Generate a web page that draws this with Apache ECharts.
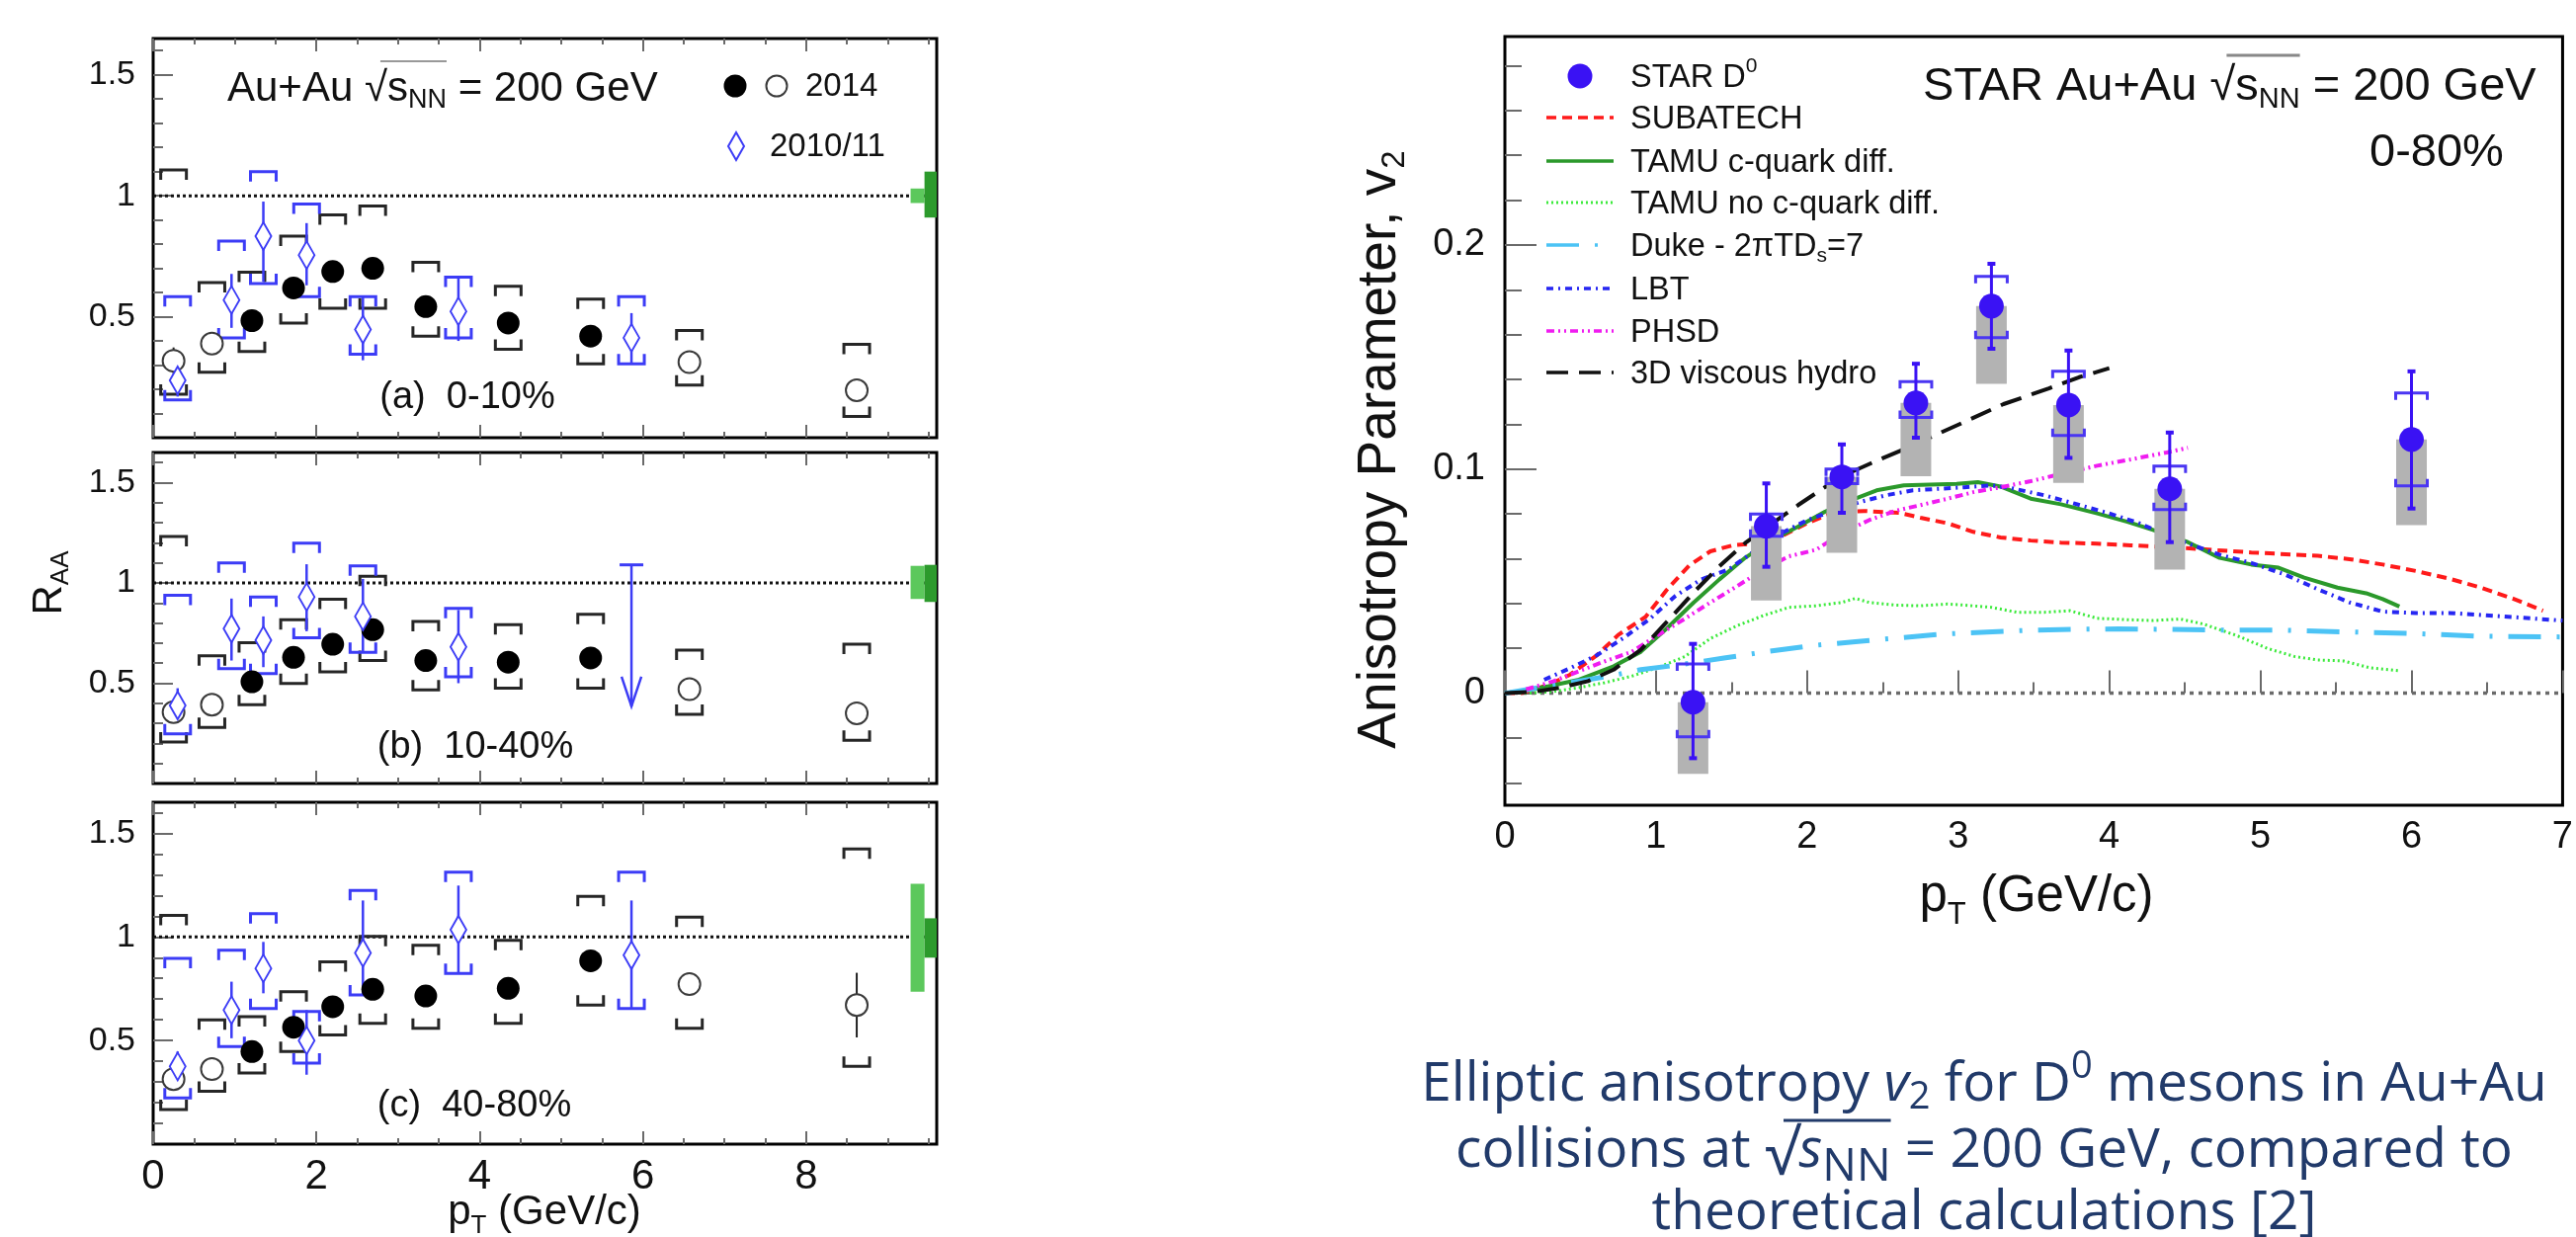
<!DOCTYPE html>
<html><head><meta charset="utf-8">
<script src="https://cdn.jsdelivr.net/npm/echarts@6/dist/echarts.min.js"></script>
<style>html,body{margin:0;padding:0;background:#fff;overflow:hidden}#c{width:2607px;height:1252px}</style>
</head><body><div id="c"></div>
<script>
// ---------------- Left: R_AA (STAR D0, Au+Au 200 GeV) ----------------
const ptRun14 = [0.25, 0.72, 1.21, 1.72, 2.20, 2.69, 3.34, 4.35, 5.36, 6.57, 8.62];
const openRun14 = [1, 1, 0, 0, 0, 0, 0, 0, 0, 1, 1];

const raa14_0_10   = [0.318, 0.389, 0.484, 0.619, 0.687, 0.700, 0.542, 0.474, 0.420, 0.312, 0.196];
const sysHi14_0_10 = [1.107, 0.641, 0.684, 0.833, 0.921, 0.958, 0.725, 0.626, 0.573, 0.443, 0.386];
const sysLo14_0_10 = [0.180, 0.271, 0.356, 0.474, 0.535, 0.535, 0.420, 0.366, 0.305, 0.217, 0.088];
const stat14_0_10  = [0.055, 0.030, 0.020, 0.020, 0.020, 0.020, 0.020, 0.025, 0.030, 0.040, 0.045];

const raa14_10_40   = [0.356, 0.393, 0.507, 0.629, 0.694, 0.767, 0.613, 0.605, 0.626, 0.470, 0.350];
const sysHi14_10_40 = [1.231, 0.637, 0.702, 0.816, 0.919, 1.033, 0.808, 0.792, 0.844, 0.665, 0.694];
const sysLo14_10_40 = [0.207, 0.280, 0.393, 0.499, 0.556, 0.613, 0.467, 0.475, 0.475, 0.345, 0.215];
const stat14_10_40  = [0.040, 0.030, 0.020, 0.020, 0.020, 0.020, 0.020, 0.025, 0.030, 0.040, 0.045];

const raa14_40_80   = [0.314, 0.362, 0.447, 0.564, 0.663, 0.747, 0.715, 0.752, 0.885, 0.772, 0.671];
const sysHi14_40_80 = [1.104, 0.600, 0.615, 0.736, 0.880, 1.003, 0.960, 0.984, 1.196, 1.096, 1.425];
const sysLo14_40_80 = [0.167, 0.255, 0.343, 0.447, 0.527, 0.583, 0.559, 0.583, 0.671, 0.559, 0.375];
const stat14_40_80  = [0.050, 0.030, 0.020, 0.020, 0.020, 0.030, 0.030, 0.040, 0.040, 0.050, 0.156];

const ptRun11 = [0.30, 0.96, 1.35, 1.88, 2.57, 3.74, 5.86];
const raa11_0_10    = [0.237, 0.569, 0.833, 0.755, 0.447, 0.522, 0.413];
const statHi11_0_10 = [0.310, 0.677, 0.976, 0.887, 0.583, 0.664, 0.515];
const statLo11_0_10 = [0.170, 0.454, 0.644, 0.630, 0.320, 0.400, 0.305];
const sysHi11_0_10  = [0.583, 0.813, 1.100, 0.966, 0.583, 0.664, 0.583];
const sysLo11_0_10  = [0.156, 0.413, 0.637, 0.583, 0.345, 0.413, 0.305];

const raa11_10_40    = [0.389, 0.772, 0.714, 0.930, 0.833, 0.681, null];
const statHi11_10_40 = [0.475, 0.922, 0.833, 1.093, 1.020, 0.865, null];
const statLo11_10_40 = [0.304, 0.613, 0.580, 0.759, 0.654, 0.500, null];
const sysHi11_10_40  = [0.938, 1.100, 0.930, 1.198, 1.085, 0.873, null];
const sysLo11_10_40  = [0.247, 0.572, 0.548, 0.727, 0.654, 0.532, null];
const ulPt11_10_40 = [5.86];
const ulHi11_10_40 = [1.09];
const ulLo11_10_40 = [0.385];

const raa11_40_80    = [0.375, 0.647, 0.848, 0.500, 0.923, 1.035, 0.912];
const statHi11_40_80 = [0.447, 0.784, 0.976, 0.647, 1.176, 1.248, 1.176];
const statLo11_40_80 = [0.279, 0.511, 0.728, 0.335, 0.720, 0.824, 0.655];
const sysHi11_40_80  = [0.896, 0.936, 1.112, 0.640, 1.224, 1.313, 1.313];
const sysLo11_40_80  = [0.223, 0.471, 0.655, 0.391, 0.720, 0.824, 0.655];

const normEdges   = [9.28, 9.45, 9.6];
const normLightLo = [0.97, 0.92, 0.735];
const normLightHi = [1.03, 1.085, 1.256];
const normDarkLo  = [0.91, 0.905, 0.90];
const normDarkHi  = [1.10, 1.09, 1.09];

const raaMajorTicks = [0.5, 1, 1.5];
const raaMinorTicks = [0.1, 0.2, 0.3, 0.4, 0.6, 0.7, 0.8, 0.9, 1.1, 1.2, 1.3, 1.4, 1.6];
const ptMajorTicksL = [0, 2, 4, 6, 8];
const ptMinorTicksL = [0.5, 1, 1.5, 2.5, 3, 3.5, 4.5, 5, 5.5, 6.5, 7, 7.5, 8.5, 9, 9.5];

// ---------------- Right: D0 v2 ----------------
const v2Pt       = [1.245, 1.73, 2.23, 2.72, 3.22, 3.73, 4.40, 6.00];
const v2Val      = [-0.004, 0.0745, 0.0965, 0.1295, 0.1727, 0.1286, 0.0912, 0.1132];
const v2StatHi   = [0.022, 0.0936, 0.111, 0.147, 0.1916, 0.1529, 0.1163, 0.1436];
const v2StatLo   = [-0.029, 0.0564, 0.0805, 0.114, 0.1537, 0.105, 0.0674, 0.0824];
const v2SysHi    = [0.013, 0.080, 0.100, 0.139, 0.186, 0.1436, 0.1013, 0.134];
const v2SysLo    = [-0.0195, 0.0700, 0.0935, 0.123, 0.1586, 0.115, 0.0819, 0.0925];
const v2NonFlowLo = [-0.036, 0.0414, 0.0626, 0.0968, 0.138, 0.0938, 0.0551, 0.075];

const subatech = [[0,0],[0.11,0],[0.29,0.0038],[0.43,0.0082],[0.61,0.017],[0.75,0.026],[0.93,0.034],[1.07,0.046],[1.22,0.057],[1.36,0.0633],[1.51,0.066],[1.64,0.0667],[1.83,0.070],[2.0,0.0758],[2.17,0.0805],[2.38,0.0813],[2.61,0.0805],[2.75,0.0783],[2.93,0.0758],[3.1,0.072],[3.28,0.0695],[3.48,0.0681],[3.68,0.0672],[3.92,0.0667],[4.14,0.066],[4.51,0.0647],[4.94,0.0628],[5.38,0.0613],[5.59,0.0598],[5.81,0.0574],[6.03,0.0545],[6.25,0.0511],[6.46,0.0471],[6.68,0.042],[6.87,0.0368]];
const tamuDiff = [[0,0],[0.11,0.0009],[0.29,0.0031],[0.49,0.006],[0.72,0.012],[0.9,0.0185],[1.07,0.0288],[1.25,0.0405],[1.42,0.0508],[1.59,0.0604],[1.77,0.0684],[1.94,0.0743],[2.12,0.081],[2.29,0.0861],[2.46,0.0905],[2.64,0.0927],[2.81,0.0931],[2.99,0.0934],[3.13,0.0942],[3.28,0.0922],[3.48,0.0868],[3.68,0.0843],[3.92,0.0802],[4.12,0.0765],[4.29,0.0728],[4.51,0.0677],[4.73,0.0604],[4.94,0.0574],[5.12,0.056],[5.29,0.0516],[5.51,0.0471],[5.7,0.0446],[5.81,0.042],[5.92,0.0387]];
const tamuNoDiff = [[0,0],[0.14,0],[0.32,0.0007],[0.49,0.0025],[0.66,0.0047],[0.84,0.0076],[1.01,0.0114],[1.19,0.0163],[1.36,0.0244],[1.54,0.0302],[1.71,0.0346],[1.88,0.0383],[2.06,0.039],[2.23,0.0405],[2.32,0.0423],[2.41,0.0405],[2.58,0.0393],[2.75,0.039],[2.93,0.0398],[3.04,0.0393],[3.22,0.0383],[3.39,0.0361],[3.57,0.0361],[3.74,0.0368],[3.92,0.0334],[4.12,0.0328],[4.29,0.0324],[4.47,0.0331],[4.62,0.0309],[4.84,0.0258],[5.05,0.0199],[5.23,0.0163],[5.38,0.0148],[5.55,0.0144],[5.72,0.0114],[5.92,0.0100]];
const duke = [[0,0],[0.03,0.0003],[0.23,0.0025],[0.43,0.0047],[0.69,0.0076],[0.9,0.0105],[1.16,0.0127],[1.45,0.0157],[1.74,0.0186],[2.03,0.0212],[2.32,0.023],[2.61,0.0247],[2.9,0.0264],[3.19,0.0273],[3.48,0.0281],[3.77,0.0285],[4.06,0.0287],[4.35,0.0285],[4.73,0.0281],[5.16,0.0281],[5.59,0.0273],[6.03,0.0266],[6.46,0.0254],[7.0,0.0251]];
const lbt = [[0.26,0.006],[0.43,0.0111],[0.61,0.017],[0.78,0.0244],[0.96,0.0332],[1.13,0.0435],[1.3,0.0508],[1.48,0.0552],[1.65,0.0633],[1.83,0.0714],[2.0,0.0772],[2.17,0.0813],[2.35,0.0853],[2.52,0.0883],[2.7,0.0905],[2.87,0.0912],[3.04,0.0919],[3.22,0.0927],[3.34,0.0917],[3.57,0.0883],[3.77,0.0846],[4.0,0.0802],[4.2,0.0758],[4.35,0.0714],[4.51,0.067],[4.73,0.0618],[4.94,0.0581],[5.16,0.053],[5.38,0.0464],[5.59,0.0405],[5.81,0.0364],[6.03,0.0358],[6.25,0.0358],[6.46,0.0349],[6.68,0.0339],[7.0,0.0324]];
const phsd = [[0.14,0.0017],[0.32,0.0053],[0.49,0.0098],[0.66,0.0142],[0.84,0.0185],[1.01,0.0258],[1.19,0.0332],[1.36,0.0405],[1.54,0.0479],[1.71,0.0552],[1.88,0.0611],[2.06,0.064],[2.23,0.0714],[2.41,0.0772],[2.58,0.0813],[2.75,0.0839],[2.93,0.0868],[3.1,0.0897],[3.28,0.0919],[3.48,0.0946],[3.68,0.0978],[3.92,0.1015],[4.15,0.1044],[4.38,0.1074],[4.52,0.1095]];
const hydro3d = [[0,0],[0.2,0.0007],[0.37,0.0025],[0.55,0.0054],[0.72,0.0105],[0.9,0.0194],[1.07,0.0317],[1.25,0.045],[1.42,0.0567],[1.59,0.067],[1.77,0.0758],[1.94,0.0839],[2.12,0.092],[2.29,0.0986],[2.46,0.1037],[2.64,0.1088],[2.81,0.114],[3.04,0.121],[3.3,0.129],[3.6,0.136],[3.8,0.141],[4.0,0.145]];

const v2MajorTicks = [0, 0.1, 0.2];
const v2MinorTicks = [-0.04, -0.02, 0.02, 0.04, 0.06, 0.08, 0.12, 0.14, 0.16, 0.18, 0.22, 0.24, 0.26, 0.28];
const ptMajorTicksR = [0, 1, 2, 3, 4, 5, 6, 7];
const ptMinorTicksR = [0.5, 1.5, 2.5, 3.5, 4.5, 5.5, 6.5];

// ---------------- styling ----------------
const F = "'Liberation Sans', Arial, Helvetica, sans-serif";
const CF = "'Open Sans', 'Noto Sans', sans-serif";
const BLUE_L = '#3c3cf6', BLUE_R = '#3a12f4', BLUE_RB = '#4a36f2';
const TICK = '#6a6a6a';

const measureCtx = document.createElement('canvas').getContext('2d');
function tw(t, size, fam, it) { measureCtx.font = (it ? 'italic ' : '') + size + 'px ' + fam; return measureCtx.measureText(t).width; }
function runs(x, y, segs, o) {
  const fam = o.fam || F, color = o.color || '#111', base = o.size;
  const ws = segs.map(g => tw(g.t, g.s || base, fam, g.it));
  const total = ws.reduce((a, b) => a + b, 0);
  let cx = o.align === 'center' ? x - total / 2 : o.align === 'right' ? x - total : x;
  const els = [], xs = [];
  segs.forEach((g, i) => {
    xs.push(cx);
    els.push({ type: 'text', x: cx, y: y + (g.dy || 0), silent: true, z: 100,
      style: { text: g.t, font: (g.it ? 'italic ' : '') + (g.s || base) + 'px ' + fam, fill: g.c || color,
        textAlign: 'left', textVerticalAlign: 'middle', align: 'left', verticalAlign: 'middle' } });
    cx += ws[i];
  });
  xs.push(cx);
  return { els, xs, total };
}

// ---------------- layout ----------------
const leftGrids = [
  { left: 155, top: 39, width: 793, height: 404 },
  { left: 155, top: 458, width: 793, height: 335 },
  { left: 155, top: 812, width: 793, height: 346 }
];
const rightGrid = { left: 1523, top: 37, width: 1078, height: 778 };

const grids = leftGrids.concat([rightGrid]).map(g => Object.assign({ show: true, borderColor: '#000', borderWidth: 3, backgroundColor: 'transparent', containLabel: false }, g));

function axis(o) {
  return Object.assign({ type: 'value', axisLine: { show: false }, splitLine: { show: false },
    axisTick: { show: false }, axisLabel: { show: false }, minorTick: { show: false } }, o);
}
function ticks(vals, len) { return { show: true, inside: true, length: len, customValues: vals, lineStyle: { color: TICK, width: 2 } }; }

const xAxes = [], yAxes = [];
leftGrids.forEach((g, p) => {
  const last = p === 2;
  xAxes.push(axis({ gridIndex: p, min: 0, max: 9.6, position: 'bottom', axisTick: ticks(ptMajorTicksL, 13),
    axisLabel: { show: last, customValues: ptMajorTicksL, fontSize: 42, fontFamily: F, color: '#111', margin: 12 } }));
  xAxes.push(axis({ gridIndex: p, min: 0, max: 9.6, position: 'bottom', axisTick: ticks(ptMinorTicksL, 6) }));
  xAxes.push(axis({ gridIndex: p, min: 0, max: 9.6, position: 'top', axisTick: ticks(ptMajorTicksL, 13) }));
  xAxes.push(axis({ gridIndex: p, min: 0, max: 9.6, position: 'top', axisTick: ticks(ptMinorTicksL, 6) }));
  yAxes.push(axis({ gridIndex: p, min: 0, max: 1.65, position: 'left', axisTick: ticks(raaMajorTicks, 20),
    axisLabel: { show: true, customValues: raaMajorTicks, fontSize: 34, fontFamily: F, color: '#111', margin: 18 } }));
  yAxes.push(axis({ gridIndex: p, min: 0, max: 1.65, position: 'left', axisTick: ticks(raaMinorTicks, 10) }));
});
xAxes.push(axis({ gridIndex: 3, min: 0, max: 7, position: 'bottom', axisTick: ticks(ptMajorTicksR, 23),
  axisLabel: { show: true, customValues: ptMajorTicksR, fontSize: 38, fontFamily: F, color: '#111', margin: 14 } }));
xAxes.push(axis({ gridIndex: 3, min: 0, max: 7, position: 'bottom', axisTick: ticks(ptMinorTicksR, 11) }));
yAxes.push(axis({ gridIndex: 3, min: -0.05, max: 0.293, position: 'left', axisTick: ticks(v2MajorTicks, 32),
  axisLabel: { show: true, customValues: v2MajorTicks, fontSize: 38, fontFamily: F, color: '#111', margin: 20 } }));
yAxes.push(axis({ gridIndex: 3, min: -0.05, max: 0.293, position: 'left', axisTick: ticks(v2MinorTicks, 17) }));

// ---------------- render helpers ----------------
function refLine(xi, yi, val, color, dash, lw) {
  return { type: 'custom', xAxisIndex: xi, yAxisIndex: yi, z: 1, silent: true, data: [[0, val]],
    renderItem(params, api) {
      const cs = params.coordSys; const y = api.coord([0, api.value(1)])[1];
      return { type: 'line', shape: { x1: cs.x, y1: y, x2: cs.x + cs.width, y2: y }, style: { stroke: color, lineWidth: lw, lineDash: dash } };
    } };
}
function bracketSeries(xi, yi, pts, hi, lo, color, halfW, leg, lw, z) {
  const data = [];
  pts.forEach((p, i) => { if (hi[i] != null) data.push([p, hi[i], lo[i]]); });
  return { type: 'custom', xAxisIndex: xi, yAxisIndex: yi, z, silent: true, data,
    renderItem(params, api) {
      const x = api.value(0);
      const a = api.coord([x, api.value(1)]), b = api.coord([x, api.value(2)]);
      const st = { stroke: color, lineWidth: lw, fill: null };
      return { type: 'group', children: [
        { type: 'polyline', shape: { points: [[a[0] - halfW, a[1] + leg], [a[0] - halfW, a[1]], [a[0] + halfW, a[1]], [a[0] + halfW, a[1] + leg]] }, style: st },
        { type: 'polyline', shape: { points: [[b[0] - halfW, b[1] - leg], [b[0] - halfW, b[1]], [b[0] + halfW, b[1]], [b[0] + halfW, b[1] - leg]] }, style: st }
      ] };
    } };
}
function statSeries(xi, yi, pts, hi, lo, color, lw, cap, z) {
  const data = [];
  pts.forEach((p, i) => { if (hi[i] != null) data.push([p, hi[i], lo[i]]); });
  return { type: 'custom', xAxisIndex: xi, yAxisIndex: yi, z, silent: true, data,
    renderItem(params, api) {
      const x = api.value(0);
      const a = api.coord([x, api.value(1)]), b = api.coord([x, api.value(2)]);
      const st = { stroke: color, lineWidth: lw };
      const ch = [{ type: 'line', shape: { x1: a[0], y1: a[1], x2: b[0], y2: b[1] }, style: st }];
      if (cap) {
        ch.push({ type: 'line', shape: { x1: a[0] - cap, y1: a[1], x2: a[0] + cap, y2: a[1] }, style: { stroke: color, lineWidth: lw + 1 } });
        ch.push({ type: 'line', shape: { x1: b[0] - cap, y1: b[1], x2: b[0] + cap, y2: b[1] }, style: { stroke: color, lineWidth: lw + 1 } });
      }
      return { type: 'group', children: ch };
    } };
}
function boxSeries(xi, yi, x0, x1, lo, hi, color, z) {
  return { type: 'custom', xAxisIndex: xi, yAxisIndex: yi, z, silent: true, data: [[x0, x1, lo, hi]],
    renderItem(params, api) {
      const a = api.coord([api.value(0), api.value(3)]), b = api.coord([api.value(1), api.value(2)]);
      return { type: 'rect', shape: { x: a[0], y: a[1], width: b[0] - a[0], height: b[1] - a[1] }, style: { fill: color } };
    } };
}
function scatter(xi, yi, data, symbol, size, style, z) {
  return { type: 'scatter', xAxisIndex: xi, yAxisIndex: yi, z, silent: true, symbol, symbolSize: size, data,
    itemStyle: Object.assign({ opacity: 1 }, style), emphasis: { disabled: true } };
}

// ---------------- series ----------------
const panels = [
  { r14: raa14_0_10, sh14: sysHi14_0_10, sl14: sysLo14_0_10, st14: stat14_0_10, r11: raa11_0_10, sth: statHi11_0_10, stl: statLo11_0_10, syh: sysHi11_0_10, syl: sysLo11_0_10 },
  { r14: raa14_10_40, sh14: sysHi14_10_40, sl14: sysLo14_10_40, st14: stat14_10_40, r11: raa11_10_40, sth: statHi11_10_40, stl: statLo11_10_40, syh: sysHi11_10_40, syl: sysLo11_10_40 },
  { r14: raa14_40_80, sh14: sysHi14_40_80, sl14: sysLo14_40_80, st14: stat14_40_80, r11: raa11_40_80, sth: statHi11_40_80, stl: statLo11_40_80, syh: sysHi11_40_80, syl: sysLo11_40_80 }
];
const series = [];
panels.forEach((P, p) => {
  const xi = 4 * p, yi = 2 * p;
  series.push(refLine(xi, yi, 1, '#111', [3, 3], 3));
  series.push(boxSeries(xi, yi, normEdges[0], normEdges[1], normLightLo[p], normLightHi[p], '#5cc85c', 2));
  series.push(boxSeries(xi, yi, normEdges[1], normEdges[2], normDarkLo[p], normDarkHi[p], '#2c9a2c', 2));
  series.push(bracketSeries(xi, yi, ptRun14, P.sh14, P.sl14, '#262626', 13, 10, 3, 3));
  series.push(bracketSeries(xi, yi, ptRun11, P.syh, P.syl, BLUE_L, 13, 10, 3, 3));
  series.push(statSeries(xi, yi, ptRun14, P.r14.map((v, i) => v + P.st14[i]), P.r14.map((v, i) => v - P.st14[i]), '#222', 2, 0, 4));
  series.push(statSeries(xi, yi, ptRun11, P.sth, P.stl, BLUE_L, 2.5, 0, 4));
  const filled = [], open = [], dia = [];
  ptRun14.forEach((x, i) => (openRun14[i] ? open : filled).push([x, P.r14[i]]));
  ptRun11.forEach((x, i) => { if (P.r11[i] != null) dia.push([x, P.r11[i]]); });
  series.push(scatter(xi, yi, filled, 'circle', 23, { color: '#000' }, 5));
  series.push(scatter(xi, yi, open, 'circle', 22, { color: '#fff', borderColor: '#3a3a3a', borderWidth: 2 }, 5));
  series.push(scatter(xi, yi, dia, 'diamond', [16, 28], { color: '#fff', borderColor: BLUE_L, borderWidth: 2 }, 6));
});
// upper limit arrow (10-40%)
series.push({ type: 'custom', xAxisIndex: 4, yAxisIndex: 2, z: 6, silent: true,
  data: ulPt11_10_40.map((x, i) => [x, ulHi11_10_40[i], ulLo11_10_40[i]]),
  renderItem(params, api) {
    const a = api.coord([api.value(0), api.value(1)]), b = api.coord([api.value(0), api.value(2)]);
    const st = { stroke: BLUE_L, lineWidth: 2.5, fill: null };
    return { type: 'group', children: [
      { type: 'line', shape: { x1: a[0], y1: a[1], x2: b[0], y2: b[1] }, style: st },
      { type: 'line', shape: { x1: a[0] - 12, y1: a[1], x2: a[0] + 12, y2: a[1] }, style: { stroke: BLUE_L, lineWidth: 3 } },
      { type: 'polyline', shape: { points: [[b[0] - 10, b[1] - 30], [b[0], b[1]], [b[0] + 10, b[1] - 30]] }, style: st }
    ] };
  } });

// right chart
const RX = 12, RY = 6;
series.push(refLine(RX, RY, 0, '#6a6a6a', [4, 5], 3.5));
const curves = [
  { d: subatech, c: '#ff1a1a', w: 4, t: [10, 6] },
  { d: tamuDiff, c: '#2b992b', w: 4, t: 'solid' },
  { d: tamuNoDiff, c: '#3cea3c', w: 3, t: [2, 3] },
  { d: duke, c: '#4cc3f5', w: 5, t: [33, 16, 3, 16] },
  { d: lbt, c: '#2626f2', w: 4, t: [7, 5, 2, 5] },
  { d: phsd, c: '#f01cf0', w: 4, t: [8, 4, 2, 4, 2, 4] },
  { d: hydro3d, c: '#111', w: 4, t: [22, 11] }
];
curves.forEach(cv => series.push({ type: 'line', xAxisIndex: RX, yAxisIndex: RY, z: 2, silent: true, data: cv.d,
  symbol: 'none', showSymbol: false, smooth: false, lineStyle: { color: cv.c, width: cv.w, type: cv.t }, emphasis: { disabled: true } }));
series.push({ type: 'custom', xAxisIndex: RX, yAxisIndex: RY, z: 3, silent: true,
  data: v2Pt.map((x, i) => [x, v2Val[i], v2NonFlowLo[i]]),
  renderItem(params, api) {
    const a = api.coord([api.value(0), api.value(1)]), b = api.coord([api.value(0), api.value(2)]);
    return { type: 'rect', shape: { x: a[0] - 15.5, y: a[1], width: 31, height: b[1] - a[1] }, style: { fill: '#b3b3b3' } };
  } });
series.push(bracketSeries(RX, RY, v2Pt, v2SysHi, v2SysLo, BLUE_RB, 16, 7, 3, 4));
series.push(statSeries(RX, RY, v2Pt, v2StatHi, v2StatLo, BLUE_R, 3, 4, 5));
series.push(scatter(RX, RY, v2Pt.map((x, i) => [x, v2Val[i]]), 'circle', 25, { color: BLUE_R }, 6));

// ---------------- texts (graphic) ----------------
const G = [];
function addRuns(x, y, segs, o) { const r = runs(x, y, segs, o); r.els.forEach(e => G.push(e)); return r; }
function overline(r, i0, i1, y, color, lw, trimL) {
  G.push({ type: 'line', z: 100, silent: true, shape: { x1: r.xs[i0] + (trimL || 0), y1: y, x2: r.xs[i1], y2: y }, style: { stroke: color, lineWidth: lw } });
}
// panel (a) header
{
  const r = addRuns(230, 90, [{ t: 'Au+Au ' }, { t: '\u221A' }, { t: 's' }, { t: 'NN', s: 27, dy: 12 }, { t: ' = 200 GeV' }], { size: 42 });
  overline(r, 1, 4, 62, '#999', 2, 16);
}
G.push({ type: 'circle', z: 100, silent: true, shape: { cx: 744, cy: 87, r: 11.5 }, style: { fill: '#000' } });
G.push({ type: 'circle', z: 100, silent: true, shape: { cx: 786, cy: 87, r: 10.5 }, style: { fill: '#fff', stroke: '#3a3a3a', lineWidth: 2 } });
addRuns(815, 88, [{ t: '2014' }], { size: 33 });
G.push({ type: 'polygon', z: 100, silent: true, shape: { points: [[745, 134], [753, 148], [745, 162], [737, 148]] }, style: { fill: '#fff', stroke: BLUE_L, lineWidth: 2 } });
addRuns(779, 149, [{ t: '2010/11' }], { size: 33 });
addRuns(473, 403, [{ t: '(a)  0-10%' }], { size: 38, align: 'center' });
addRuns(481, 757, [{ t: '(b)  10-40%' }], { size: 38, align: 'center' });
addRuns(480, 1120, [{ t: '(c)  40-80%' }], { size: 38, align: 'center' });
// R_AA title (rotated)
{
  const r = runs(0, 0, [{ t: 'R' }, { t: 'AA', s: 26, dy: 12 }], { size: 42, align: 'center' });
  G.push({ type: 'group', x: 50, y: 590, rotation: Math.PI / 2, children: r.els });
}
addRuns(551, 1227, [{ t: 'p' }, { t: 'T', s: 26, dy: 14 }, { t: ' (GeV/c)' }], { size: 42, align: 'center' });

// right legend
const legRows = [77, 119, 163, 205, 248, 292, 335, 377];
G.push({ type: 'circle', z: 100, silent: true, shape: { cx: 1599, cy: legRows[0], r: 12.5 }, style: { fill: BLUE_R } });
addRuns(1650, legRows[0] + 2, [{ t: 'STAR D' }, { t: '0', s: 21, dy: -12 }], { size: 32.5 });
const legNames = [
  [{ t: 'SUBATECH' }],
  [{ t: 'TAMU c-quark diff.' }],
  [{ t: 'TAMU no c-quark diff.' }],
  [{ t: 'Duke - 2\u03C0TD' }, { t: 's', s: 21, dy: 9 }, { t: '=7' }],
  [{ t: 'LBT' }],
  [{ t: 'PHSD' }],
  [{ t: '3D viscous hydro' }]
];
curves.forEach((cv, i) => {
  const y = legRows[i + 1];
  G.push({ type: 'line', z: 100, silent: true, shape: { x1: 1565, y1: y, x2: 1633, y2: y },
    style: { stroke: cv.c, lineWidth: Math.min(cv.w, 3.5), lineDash: cv.t === 'solid' ? null : cv.t } });
  addRuns(1650, y + 2, legNames[i], { size: 32.5 });
});
// right header
{
  const r = addRuns(1946, 88, [{ t: 'STAR Au+Au ' }, { t: '\u221A' }, { t: 's' }, { t: 'NN', s: 29, dy: 13 }, { t: ' = 200 GeV' }], { size: 47 });
  overline(r, 1, 4, 56, '#888', 3, 17);
}
addRuns(2398, 155, [{ t: '0-80%' }], { size: 47 });
// right axis titles
{
  const r = runs(0, 0, [{ t: 'Anisotropy Parameter, v' }, { t: '2', s: 33, dy: 15 }], { size: 55, align: 'center' });
  G.push({ type: 'group', x: 1397, y: 455, rotation: Math.PI / 2, children: r.els });
}
addRuns(2061, 908, [{ t: 'p' }, { t: 'T', s: 31, dy: 18 }, { t: ' (GeV/c)' }], { size: 51, align: 'center' });

// caption
const CAP = '#213a6a';
addRuns(2008, 1098, [{ t: 'Elliptic anisotropy ' }, { t: 'v', it: true }, { t: '2', s: 38, dy: 13 }, { t: ' for D' }, { t: '0', s: 38, dy: -18 }, { t: ' mesons in Au+Au' }], { size: 55, fam: CF, color: CAP, align: 'center' });
{
  const r = addRuns(2008, 1165, [{ t: 'collisions at ' }, { t: '\u221A', s: 63, dy: 6 }, { t: 's', it: true }, { t: 'NN', s: 46, dy: 17 }, { t: ' = 200 GeV, compared to' }], { size: 55, fam: CF, color: CAP, align: 'center' });
  overline(r, 1, 4, 1134, CAP, 3, 19);
}
addRuns(2008, 1228, [{ t: 'theoretical calculations [2]' }], { size: 55, fam: CF, color: CAP, align: 'center' });

const chart = echarts.init(document.getElementById('c'), null, { renderer: 'canvas', width: 2607, height: 1252 });
chart.setOption({ animation: false, backgroundColor: '#fff', grid: grids, xAxis: xAxes, yAxis: yAxes, series, graphic: { elements: G } });
</script></body></html>
